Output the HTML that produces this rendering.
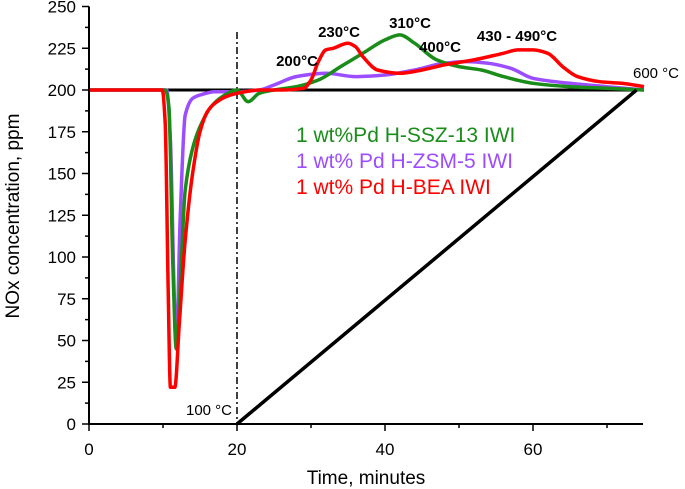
<!DOCTYPE html>
<html><head><meta charset="utf-8"><style>
body{margin:0;background:#fff}
svg{display:block;font-family:"Liberation Sans",Arial,sans-serif}
</style></head><body>
<svg id="c" width="685" height="489"></svg>
<script>
const xTicks=[0,20,40,60];
const yTicks=[0,25,50,75,100,125,150,175,200,225,250];
const sszT=[0,10.3,10.8,11.3,11.8,12.4,13,14,15,16.5,18,20,21.5,23,25,28,31,34,37,40,42,44,47,50,53,56,60,65,70,75];
const sszV=[200,200,190,100,45,90,140,165,178,190,196,200,193,198,200,202,206,214,222,230,233,228,218,214,212,208,204,202,201,200];
const zsmT=[0,10.5,11,11.5,11.8,12.3,13,14,15,17,20,23,25,28,32,36,40,44,48,51,54,57,60,65,70,75];
const zsmV=[200,200,170,80,45,120,185,195,197,199,199,200,203,208,210,208,209,212,216,217,216,213,207,204,202,200];
const beaT=[0,9.9,10.3,10.7,11,11.6,12.2,13,14,15,16,17,18.5,20,23,26,29,30,31,32,33,35,36,37,39,42,45,48,52,56,58,60,62,64,66,69,72,75];
const beaV=[200,200,180,80,22,22,60,110,150,175,187,192,196,198,200,200,201,206,217,224,225,228,226,220,212,210,212,215,218,222,224,224,222,214,208,205,204,202];
const tempT=[20,74];
const tempV=[0,200];
const X0=89,XS=(237-89)/20,Y0=424,YS=(424-90)/200;
const sx=v=>X0+v*XS, sy=v=>Y0-v*YS;
const svg=document.getElementById('c');const NS='http://www.w3.org/2000/svg';
function mk(t,a,txt){const e=document.createElementNS(NS,t);for(const k in a)e.setAttribute(k,a[k]);if(txt!=null)e.textContent=txt;svg.appendChild(e);return e;}
let e=mk('line',{x1:sx(0),x2:sx(74),y1:sy(200),y2:sy(200),stroke:'#000','stroke-width':3});


e=mk('line',{x1:sx(20),x2:sx(20),y1:32,y2:Y0,stroke:'#000','stroke-width':1.5,'stroke-dasharray':'7,3,2,3'});


function series(T,V,col,name,w){
const X=T.map(sx),Y=V.map(sy),n=X.length;
const s=[];for(let i=0;i<n-1;i++)s.push((Y[i+1]-Y[i])/(X[i+1]-X[i]));
const m=[s[0]];
for(let i=1;i<n-1;i++){m.push(s[i-1]*s[i]<=0?0:2/(1/s[i-1]+1/s[i]));}
m.push(s[n-2]);
let d='M'+X[0].toFixed(1)+','+Y[0].toFixed(1);
for(let i=0;i<n-1;i++){const h=(X[i+1]-X[i])/3;
d+='C'+(X[i]+h).toFixed(1)+','+(Y[i]+m[i]*h).toFixed(1)+' '+(X[i+1]-h).toFixed(1)+','+(Y[i+1]-m[i+1]*h).toFixed(1)+' '+X[i+1].toFixed(1)+','+Y[i+1].toFixed(1);}
const p=mk('path',{d:d,fill:'none',stroke:col,'stroke-width':w,'stroke-linejoin':'round'});

}
series(zsmT,zsmV,'#9b4dff','series-h-zsm-5',3.5);
series(sszT,sszV,'#1a8c1a','series-h-ssz-13',3.5);
series(beaT,beaV,'#ff0000','series-h-bea',3.5);
e=mk('line',{x1:sx(tempT[0]),y1:sy(tempV[0]),x2:sx(tempT[1]),y2:sy(tempV[1]),stroke:'#000','stroke-width':3.5});


e=mk('line',{x1:X0,x2:X0,y1:sy(250),y2:Y0+1,stroke:'#000','stroke-width':2});


e=mk('line',{x1:X0-1,x2:643,y1:Y0,y2:Y0,stroke:'#000','stroke-width':2});


for(let v=0;v<=75;v+=10){mk('line',{x1:sx(v),x2:sx(v),y1:Y0,y2:Y0+(v%20==0?7:4),stroke:'#000','stroke-width':1.5});}
xTicks.forEach(v=>{e=mk('text',{x:sx(v),y:455,'text-anchor':'middle','font-size':17},v);

});
for(let v=0;v<=250;v+=12.5){mk('line',{x1:X0,x2:X0-(v%25==0?7:4),y1:sy(v),y2:sy(v),stroke:'#000','stroke-width':1.5});}
yTicks.forEach(v=>{e=mk('text',{x:76,y:sy(v)+6,'text-anchor':'end','font-size':17},v);

});
e=mk('text',{x:366,y:484,'text-anchor':'middle','font-size':19},'Time, minutes');


e=mk('text',{x:0,y:0,'text-anchor':'middle','font-size':19,transform:'translate(19,216) rotate(-90)'},'NOx concentration, ppm');


const anns=[['200°C',297,66,'bold'],['230°C',339,37,'bold'],['310°C',410,28,'bold'],['400°C',440,52,'bold'],['430 - 490°C',517,41,'bold'],['600 °C',656,78,'normal'],['100 °C',209,415,'normal']];
anns.forEach(a=>{e=mk('text',{x:a[1],y:a[2],'text-anchor':'middle','font-size':15,'font-weight':a[3]},a[0]);

});
const leg=[['1 wt%Pd H-SSZ-13 IWI','#1a8c1a',142],['1 wt% Pd H-ZSM-5 IWI','#9b4dff',168],['1 wt% Pd H-BEA IWI','#ff0000',194]];
leg.forEach(l=>{e=mk('text',{x:296,y:l[2],'font-size':21,fill:l[1]},l[0]);

});
</script>
</body></html>
